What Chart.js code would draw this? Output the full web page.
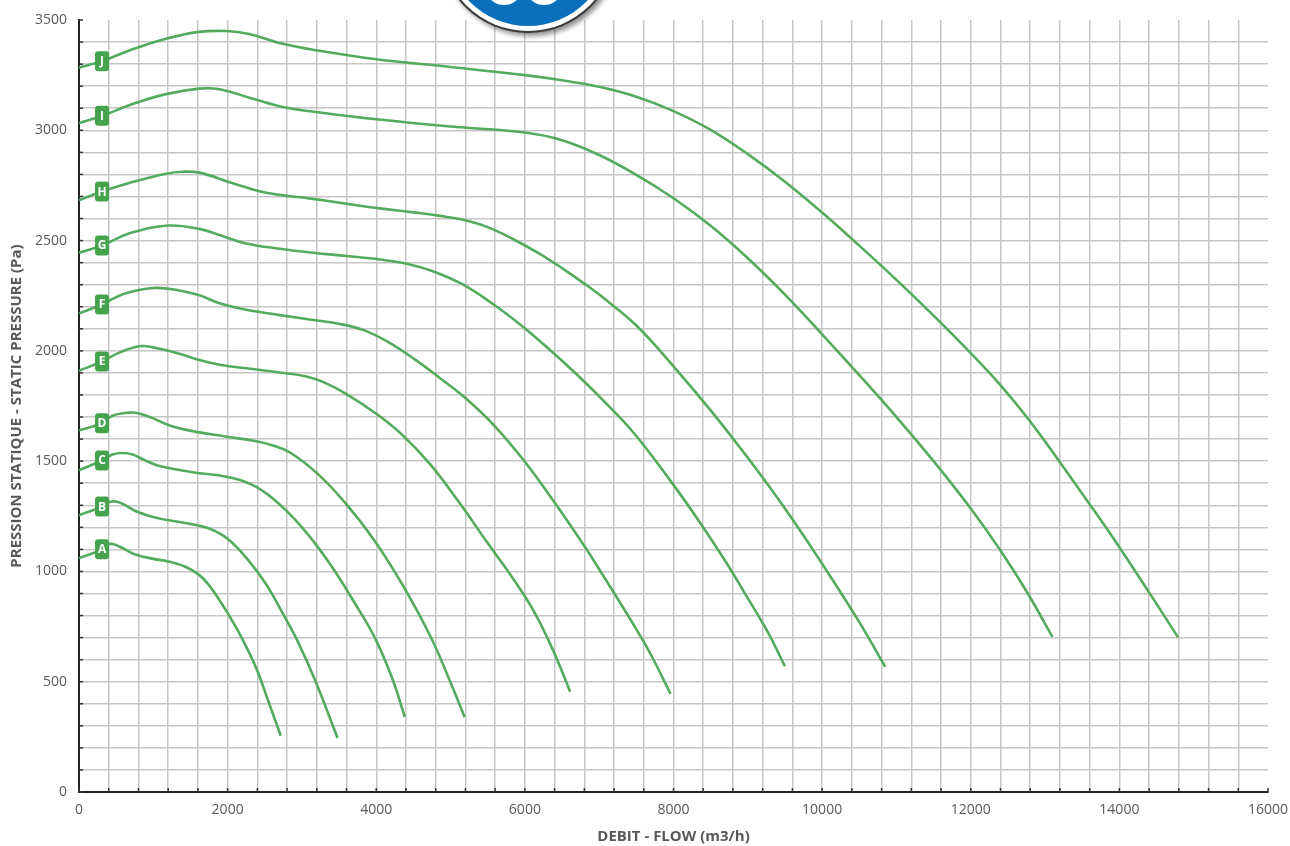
<!DOCTYPE html>
<html>
<head>
<meta charset="utf-8">
<script src="https://cdn.jsdelivr.net/npm/chart.js@4.4.1/dist/chart.umd.min.js"></script>
<style>
  html, body { margin: 0; padding: 0; background: #ffffff; }
  #wrap { width: 1290px; height: 846px; }
</style>
</head>
<body>
<div id="wrap"><canvas id="fan" width="1290" height="846"></canvas></div>
<script>
// Fan curves: static pressure (Pa) versus air flow (m3/h), one curve per model A..J
const curveNames = ['A', 'B', 'C', 'D', 'E', 'F', 'G', 'H', 'I', 'J'];

const flowA = [0, 300, 420, 550, 750, 1000, 1220, 1440, 1670, 1900, 2140, 2380, 2560, 2715];
const pressA = [1060, 1098, 1125, 1112, 1078, 1057, 1044, 1020, 968, 865, 730, 565, 400, 255];

const flowB = [0, 300, 420, 550, 800, 1080, 1430, 1750, 2000, 2280, 2520, 2750, 2940, 3180, 3480];
const pressB = [1255, 1292, 1316, 1312, 1268, 1240, 1220, 1195, 1148, 1050, 941, 805, 685, 504, 245];

const flowC = [0, 310, 450, 590, 720, 900, 1080, 1530, 2000, 2380, 2750, 3080, 3410, 3690, 3980, 4210, 4385];
const pressC = [1459, 1503, 1530, 1537, 1530, 1502, 1478, 1450, 1428, 1384, 1288, 1168, 1018, 868, 700, 520, 340];

const flowD = [0, 310, 450, 680, 810, 990, 1220, 1530, 1990, 2400, 2610, 2850, 3220, 3600, 3980, 4350, 4730, 4965, 5190];
const pressD = [1639, 1672, 1706, 1720, 1716, 1695, 1662, 1636, 1611, 1589, 1571, 1537, 1440, 1304, 1138, 941, 705, 525, 339];

const flowE = [0, 310, 550, 840, 1100, 1350, 1620, 1890, 2250, 2700, 3060, 3290, 3600, 4020, 4350, 4730, 5100, 5480, 5860, 6140, 6380, 6610];
const pressE = [1910, 1952, 1993, 2022, 2008, 1987, 1958, 1937, 1921, 1902, 1884, 1858, 1804, 1710, 1619, 1484, 1320, 1138, 958, 808, 642, 455];

const flowF = [0, 310, 600, 1000, 1350, 1620, 1890, 2250, 2700, 3150, 3510, 3830, 4140, 4500, 4860, 5200, 5600, 6000, 6400, 6800, 7000, 7460, 7700, 7960];
const pressF = [2170, 2210, 2258, 2285, 2274, 2252, 2216, 2186, 2162, 2140, 2122, 2094, 2044, 1966, 1876, 1786, 1657, 1497, 1312, 1115, 1010, 760, 620, 445];

const flowG = [0, 310, 700, 1200, 1620, 1890, 2250, 2700, 3150, 3600, 4050, 4410, 4770, 5170, 5580, 5940, 6300, 6660, 7010, 7460, 7950, 8360, 8720, 8940, 9260, 9500];
const pressG = [2445, 2478, 2535, 2568, 2553, 2525, 2487, 2463, 2445, 2430, 2414, 2395, 2360, 2300, 2210, 2118, 2015, 1905, 1790, 1630, 1415, 1220, 1035, 912, 730, 570];

const flowH = [0, 310, 720, 1170, 1390, 1620, 2070, 2520, 3150, 3600, 4050, 4500, 4860, 5170, 5490, 5850, 6200, 6500, 6800, 7000, 7500, 8000, 8500, 9000, 9500, 10000, 10500, 10850];
const pressH = [2683, 2722, 2765, 2803, 2812, 2808, 2760, 2717, 2689, 2667, 2646, 2628, 2612, 2594, 2562, 2505, 2440, 2375, 2305, 2255, 2115, 1930, 1730, 1515, 1285, 1035, 770, 567];

const flowI = [0, 315, 720, 1170, 1620, 1890, 2340, 2740, 3240, 4000, 5000, 6000, 6500, 7000, 7500, 8000, 8500, 9000, 9500, 10000, 10500, 11000, 11500, 12000, 12400, 12750, 13100];
const pressI = [3033, 3066, 3119, 3164, 3189, 3186, 3143, 3106, 3081, 3050, 3017, 2990, 2955, 2888, 2798, 2692, 2567, 2420, 2255, 2075, 1890, 1700, 1500, 1285, 1095, 910, 703];

const flowJ = [0, 315, 720, 1170, 1590, 1980, 2290, 2740, 3240, 4000, 5000, 6000, 6500, 7000, 7500, 8000, 8500, 9000, 9500, 10000, 10500, 11000, 11500, 12000, 12400, 12800, 13200, 13600, 14000, 14400, 14790];
const pressJ = [3284, 3314, 3367, 3415, 3445, 3450, 3437, 3392, 3360, 3322, 3287, 3250, 3227, 3197, 3152, 3087, 3002, 2892, 2767, 2627, 2477, 2322, 2160, 1990, 1845, 1680, 1495, 1305, 1110, 905, 701];

const flows = [flowA, flowB, flowC, flowD, flowE, flowF, flowG, flowH, flowI, flowJ];
const pressures = [pressA, pressB, pressC, pressD, pressE, pressF, pressG, pressH, pressI, pressJ];

// Labelled axis values
const xTickLabels = [0, 2000, 4000, 6000, 8000, 10000, 12000, 14000, 16000];
const yTickLabels = [0, 500, 1000, 1500, 2000, 2500, 3000, 3500];

// Flow at which the curve letters sit
const tagFlow = 310;

const LINE_GREEN = '#55ab5d';
const TAG_GREEN = '#44a34c';
const TEXT_GREY = '#595959';
const FONT = '"Open Sans", "Liberation Sans", Arial, sans-serif';

function pressureAt(flow, press, f) {
  for (let i = 1; i < flow.length; i++) {
    if (f <= flow[i]) {
      const t = (f - flow[i - 1]) / (flow[i] - flow[i - 1]);
      return press[i - 1] + t * (press[i] - press[i - 1]);
    }
  }
  return press[press.length - 1];
}

const datasets = curveNames.map((name, k) => ({
  label: name,
  data: flows[k].map((f, i) => ({ x: f, y: pressures[k][i] })),
  borderColor: LINE_GREEN,
  borderWidth: 2.6,
  pointRadius: 0,
  fill: false,
  tension: 0.4
}));

// Curve letters in green rounded tags
const tagPlugin = {
  id: 'curveTags',
  afterDatasetsDraw(chart) {
    const ctx = chart.ctx;
    const xs = chart.scales.x, ys = chart.scales.y;
    ctx.save();
    curveNames.forEach((name, k) => {
      const px = xs.getPixelForValue(tagFlow);
      const py = ys.getPixelForValue(pressureAt(flows[k], pressures[k], tagFlow));
      const w = 14, h = 20, r = 3;
      ctx.fillStyle = TAG_GREEN;
      ctx.beginPath();
      ctx.roundRect(px - w / 2, py - h / 2, w, h, r);
      ctx.fill();
      ctx.fillStyle = '#ffffff';
      ctx.font = 'bold 12px ' + FONT;
      ctx.textAlign = 'center';
      ctx.textBaseline = 'middle';
      ctx.fillText(name, px, py + 0.5);
    });
    ctx.restore();
  }
};

// Short inner tick marks along both axes, axis titles and the round badge at the top
const decorPlugin = {
  id: 'decor',
  beforeDatasetsDraw(chart) {
    const ctx = chart.ctx;
    const a = chart.chartArea;
    ctx.save();
    ctx.strokeStyle = '#333333';
    ctx.lineWidth = 1.5;
    chart.scales.x.ticks.forEach(t => {
      const px = chart.scales.x.getPixelForValue(t.value);
      ctx.beginPath(); ctx.moveTo(px, a.bottom); ctx.lineTo(px, a.bottom - 4); ctx.stroke();
    });
    chart.scales.y.ticks.forEach(t => {
      const py = chart.scales.y.getPixelForValue(t.value);
      ctx.beginPath(); ctx.moveTo(a.left, py); ctx.lineTo(a.left + 4, py); ctx.stroke();
    });
    ctx.restore();
  },
  afterDraw(chart) {
    const ctx = chart.ctx;
    const a = chart.chartArea;
    ctx.save();
    ctx.fillStyle = TEXT_GREY;
    ctx.font = 'bold 15px ' + FONT;
    ctx.textAlign = 'center';
    ctx.textBaseline = 'middle';
    ctx.fillText('DEBIT - FLOW (m3/h)', (a.left + a.right) / 2, 837);
    ctx.translate(17, (a.top + a.bottom) / 2);
    ctx.rotate(-Math.PI / 2);
    ctx.fillText('PRESSION STATIQUE - STATIC PRESSURE (Pa)', 0, 0);
    ctx.restore();

    // badge
    const cx = 528, cy = -56;
    ctx.save();
    ctx.shadowColor = 'rgba(0,0,0,0.45)';
    ctx.shadowBlur = 5;
    ctx.shadowOffsetX = 3;
    ctx.shadowOffsetY = 3;
    ctx.fillStyle = '#3a3a3a';
    ctx.beginPath(); ctx.arc(cx, cy, 89, 0, Math.PI * 2); ctx.fill();
    ctx.restore();
    ctx.save();
    ctx.fillStyle = '#ffffff';
    ctx.beginPath(); ctx.arc(cx, cy, 87, 0, Math.PI * 2); ctx.fill();
    ctx.fillStyle = '#0a70bd';
    ctx.beginPath(); ctx.arc(cx, cy, 82, 0, Math.PI * 2); ctx.fill();
    ctx.fillStyle = '#ffffff';
    ctx.beginPath(); ctx.ellipse(504, -6, 15, 11, 0, 0, Math.PI * 2); ctx.fill();
    ctx.beginPath(); ctx.ellipse(544, -6, 15, 11, 0, 0, Math.PI * 2); ctx.fill();
    ctx.restore();
  }
};

const hiddenLast = (limit) => (c) => (c.tick && c.tick.value >= limit ? 'rgba(0,0,0,0)' : '#c6c6c6');

new Chart(document.getElementById('fan'), {
  type: 'line',
  data: { datasets },
  plugins: [tagPlugin, decorPlugin],
  options: {
    responsive: false,
    animation: false,
    devicePixelRatio: 1,
    layout: { padding: { top: 20, right: 22, left: 0, bottom: 0 } },
    plugins: { legend: { display: false }, tooltip: { enabled: false } },
    scales: {
      x: {
        type: 'linear',
        min: 0,
        max: 16000,
        afterFit: (s) => { s.height = 54; s.paddingLeft = 0; s.paddingRight = 0; },
        border: { display: true, color: '#222222', width: 2 },
        grid: { color: hiddenLast(16000), lineWidth: 1.5, drawTicks: false },
        ticks: {
          stepSize: 400,
          autoSkip: false,
          maxRotation: 0,
          padding: 10,
          color: TEXT_GREY,
          font: { family: FONT, size: 14 },
          callback: (v) => (xTickLabels.includes(v) ? String(v) : '')
        }
      },
      y: {
        type: 'linear',
        min: 0,
        max: 3500,
        afterFit: (s) => { s.width = 79; s.paddingTop = 0; s.paddingBottom = 0; },
        border: { display: true, color: '#222222', width: 2 },
        grid: { color: hiddenLast(3500), lineWidth: 1.5, drawTicks: false },
        ticks: {
          stepSize: 100,
          autoSkip: false,
          padding: 12,
          color: TEXT_GREY,
          font: { family: FONT, size: 14 },
          callback: (v) => (yTickLabels.includes(v) ? String(v) : '')
        }
      }
    }
  }
});
</script>
</body>
</html>
